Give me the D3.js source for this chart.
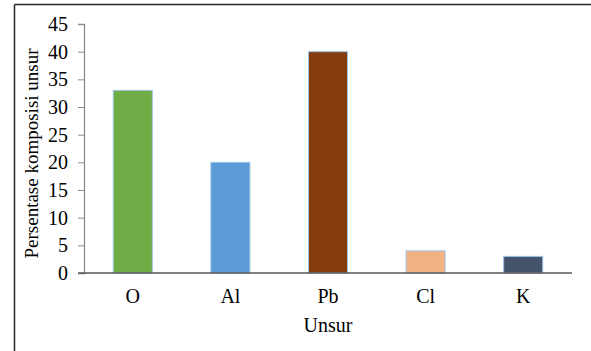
<!DOCTYPE html>
<html>
<head>
<meta charset="utf-8">
<script src="https://cdn.jsdelivr.net/npm/d3@7"></script>
<style>
  html, body { margin: 0; padding: 0; background: #fff; }
  svg { display: block; }
  text { font-family: "Liberation Serif", "Times New Roman", serif; fill: #000; }
</style>
</head>
<body>
<script>
// Element composition (percent)
const categories = ["O", "Al", "Pb", "Cl", "K"];
const values = [33, 20, 40, 4, 3];
const barColors = ["#70AD47", "#5B9BD5", "#843C0C", "#F4B183", "#44546A"];
const yTicks = [0, 5, 10, 15, 20, 25, 30, 35, 40, 45];
const xTitle = "Unsur";
const yTitle = "Persentase komposisi unsur";

const W = 591, H = 351;
const svg = d3.select("body").append("svg").attr("width", W).attr("height", H);

// outer frame: only top and left edges are visible
svg.append("line").attr("x1", 14.5).attr("x2", W).attr("y1", 4.5).attr("y2", 4.5)
  .attr("stroke", "#262626").attr("stroke-width", 1.5);
svg.append("line").attr("x1", 14.5).attr("x2", 14.5).attr("y1", 4.5).attr("y2", H)
  .attr("stroke", "#262626").attr("stroke-width", 1.5);

const plot = { left: 84, right: 572, top: 24, bottom: 273 };

const x = d3.scaleBand().domain(categories)
  .range([plot.left, plot.right]).paddingInner(0.6).paddingOuter(0.3);
const y = d3.scaleLinear().domain([0, 45]).range([plot.bottom, plot.top]);

// bars
svg.append("g").selectAll("rect").data(categories).join("rect")
  .attr("x", d => x(d))
  .attr("width", x.bandwidth())
  .attr("y", (d, i) => y(values[i]))
  .attr("height", (d, i) => y(0) - y(values[i]))
  .attr("fill", (d, i) => barColors[i])
  .attr("stroke", "#9DC3E6")
  .attr("stroke-width", 1);

// y axis
const yAxis = svg.append("g").attr("transform", `translate(${plot.left},0)`)
  .call(d3.axisLeft(y).tickValues(yTicks).tickSize(6).tickPadding(10));
yAxis.select(".domain").attr("stroke", "#8c8c8c").attr("stroke-width", 1.3);
yAxis.selectAll(".tick line").attr("stroke", "#8c8c8c");
yAxis.selectAll(".tick text")
  .style("font-family", "'Liberation Serif', serif").style("font-size", "20px").attr("fill", "#000");

// x axis
const xAxis = svg.append("g").attr("transform", `translate(0,${plot.bottom})`)
  .call(d3.axisBottom(x).tickSize(0).tickPadding(16));
xAxis.select(".domain").attr("d", `M${plot.left - 6},0H${plot.right}`)
  .attr("stroke", "#595959").attr("stroke-width", 1.3);
xAxis.selectAll(".tick text")
  .style("font-family", "'Liberation Serif', serif").style("font-size", "20px").attr("fill", "#000");

// axis titles
svg.append("text").attr("x", (plot.left + plot.right) / 2 - 0).attr("y", 332)
  .attr("text-anchor", "middle").style("font-size", "20px").text(xTitle);
svg.append("text")
  .attr("transform", `translate(38,${(plot.top + plot.bottom) / 2 + 5}) rotate(-90)`)
  .attr("text-anchor", "middle").style("font-size", "19px").text(yTitle);
</script>
</body>
</html>
